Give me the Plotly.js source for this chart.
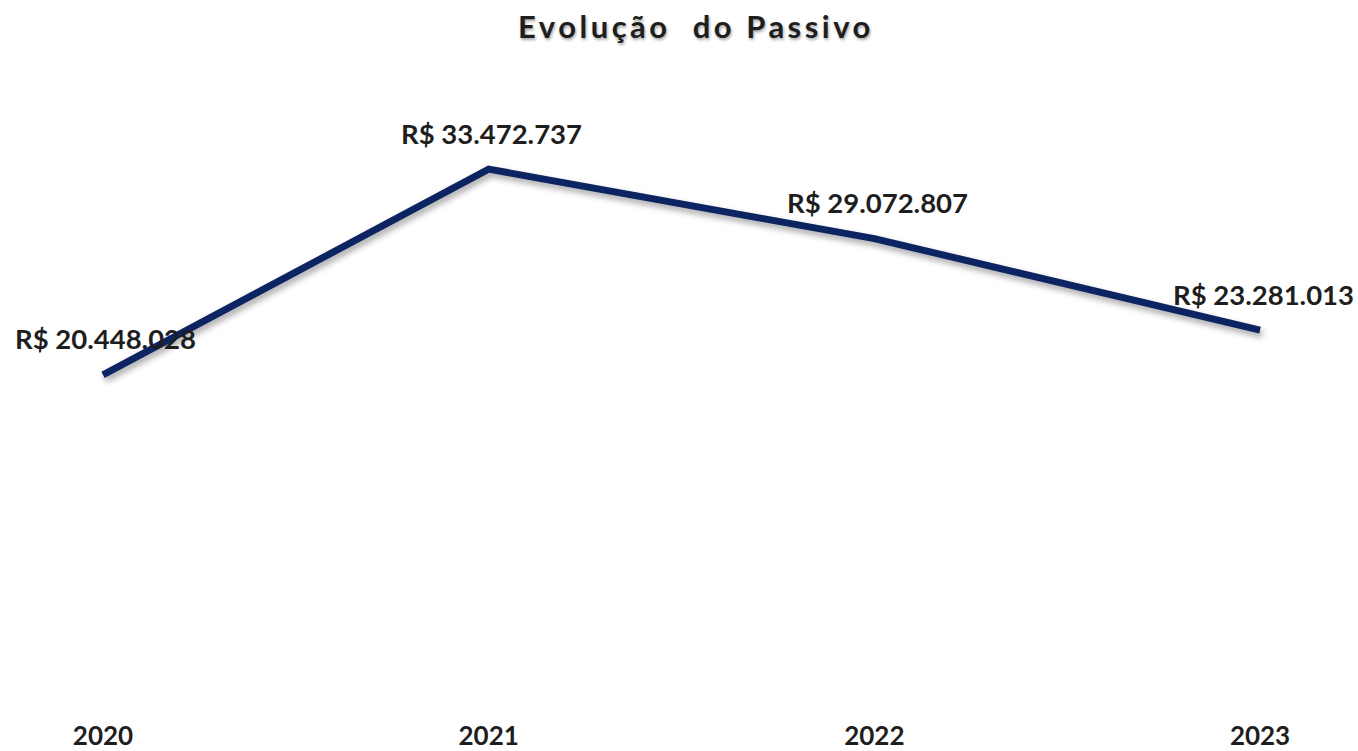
<!DOCTYPE html>
<html>
<head>
<meta charset="utf-8">
<script src="https://cdn.plot.ly/plotly-3.0.1.min.js"></script>
<style>
  html, body { margin: 0; padding: 0; background: #ffffff; }
  #chart { width: 1358px; height: 751px; }
  .gtitle { letter-spacing: 3.5px; }
  .scatterlayer .js-line { filter: drop-shadow(2px 4px 3px rgba(0,0,0,0.35)); }
</style>
</head>
<body>
<div id="chart"></div>
<script>
const years = ['2020', '2021', '2022', '2023'];
const passivo = [20448028, 33472737, 29072807, 23281013];
const labels = ['R$ 20.448.028', 'R$ 33.472.737', 'R$ 29.072.807', 'R$ 23.281.013'];
const titleText = 'Evolução  do Passivo';

const textColor = '#1e1e1e';
const lineColor = '#0c2461';

const trace = {
  x: years,
  y: passivo,
  type: 'scatter',
  mode: 'lines',
  line: { color: lineColor, width: 7 },
  hoverinfo: 'skip'
};

const annotations = years.map((yr, i) => ({
  x: i,
  y: passivo[i],
  xref: 'x',
  yref: 'y',
  text: labels[i],
  showarrow: false,
  yshift: 36,
  xshift: 3,
  xanchor: 'center',
  yanchor: 'middle',
  font: { family: 'Lato, sans-serif', size: 27.5, color: textColor, weight: 700 }
}));

const layout = {
  width: 1358,
  height: 751,
  paper_bgcolor: '#ffffff',
  plot_bgcolor: '#ffffff',
  margin: { l: 0, r: 0, t: 66, b: 53 },
  showlegend: false,
  title: {
    text: titleText,
    xref: 'paper',
    x: 0.5125,
    xanchor: 'center',
    yref: 'container',
    y: 1 - 27 / 751,
    yanchor: 'middle',
    font: { family: 'Lato, sans-serif', size: 31, color: textColor, weight: 700, shadow: '1px 2px 3px rgba(0,0,0,0.35)' }
  },
  xaxis: {
    type: 'category',
    range: [-0.267, 3.254],
    showgrid: false,
    zeroline: false,
    showline: false,
    ticks: '',
    ticklabelstandoff: 20,
    tickfont: { family: 'Lato, sans-serif', size: 26, color: textColor, weight: 700 }
  },
  yaxis: {
    range: [0, 40000000],
    showgrid: false,
    zeroline: false,
    showline: false,
    showticklabels: false,
    ticks: ''
  },
  annotations: annotations
};

Plotly.newPlot('chart', [trace], layout, { displayModeBar: false, staticPlot: true });
</script>
</body>
</html>
